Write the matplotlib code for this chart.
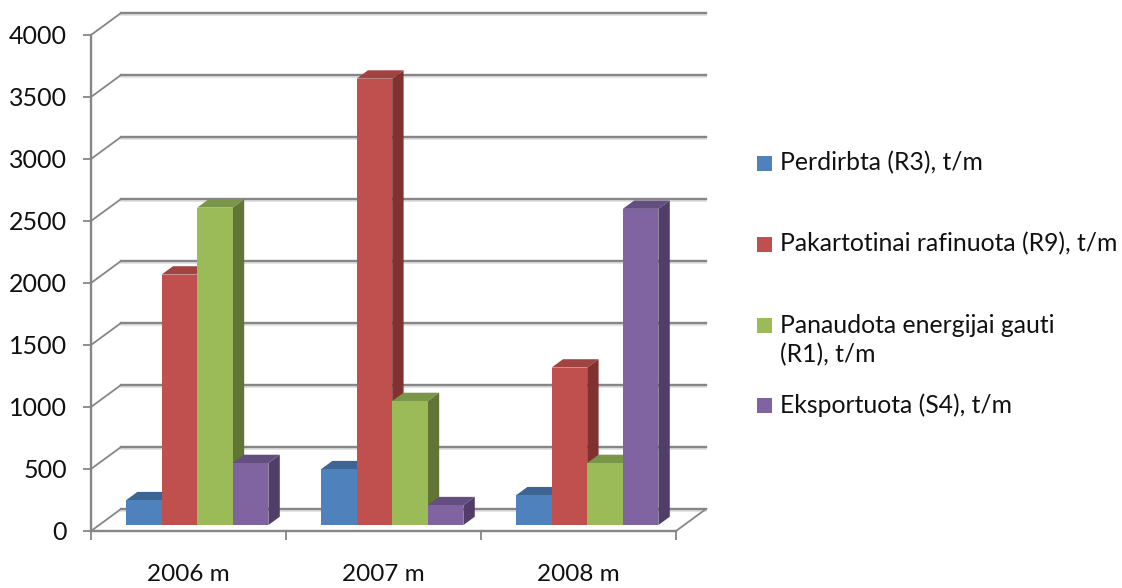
import matplotlib
matplotlib.use('Agg')
import matplotlib.pyplot as plt
from matplotlib.patches import Rectangle

categories = ['2006 m', '2007 m', '2008 m']
series_names = ['Perdirbta (R3), t/m', 'Pakartotinai rafinuota (R9), t/m',
                'Panaudota energijai gauti\n(R1), t/m', 'Eksportuota (S4), t/m']
perdirbta = [200, 450, 240]
rafinuota = [2020, 3600, 1270]
energijai = [2560, 1000, 500]
eksportuota = [500, 160, 2550]
y_ticks = [0, 500, 1000, 1500, 2000, 2500, 3000, 3500, 4000]

front_colors = ['#4F81BD', '#C0504D', '#9BBB59', '#8064A2']
top_colors = ['#3D6594', '#A14341', '#7A9648', '#644E80']
side_colors = ['#2F4E73', '#7F3230', '#617537', '#503D68']
GRID = '#868686'
SHADOW = '#DADADA'

W, H = 1122, 588
plt.rcParams['font.family'] = ['Lato', 'DejaVu Sans']

fig = plt.figure(figsize=(W / 100, H / 100), dpi=100, facecolor='white')
ax = fig.add_axes([91 / W, (H - 531) / H, 585 / W, 496 / H])
ax.set_xlim(0, 3)
ax.set_ylim(0, 4000)
ax.patch.set_visible(False)

# depth of the fake 3d box, in data units
depth_x = 30 / 195
depth_y = 22 / 496 * 4000
bar_w = 35.6 / 195
d0, d1 = 0.27, 0.65


def proj(x, y, d):
    return x + d * depth_x, y + d * depth_y


# back wall and floor
for t in y_ticks:
    x0, y0 = proj(0, t, 1)
    x1, y1 = proj(3, t, 1)
    ax.plot([x0, x1], [y0 - 16, y1 - 16], color=SHADOW, lw=1.1, clip_on=False, zorder=0.5)
    ax.plot([x0, x1], [y0, y1], color=GRID, lw=1.7, clip_on=False, zorder=1)
    ax.plot([0, x0], [t, y0], color=GRID, lw=1.3, clip_on=False, zorder=1)
x0, y0 = proj(3, 0, 1)
ax.plot([3, x0], [0, y0], color=GRID, lw=1.3, clip_on=False, zorder=1)

# bars, left to right so each one covers the side of the previous
values = [perdirbta, rafinuota, energijai, eksportuota]
for i in range(len(categories)):
    for j, vals in enumerate(values):
        left = i + 0.5 + (j - 2) * bar_w + d0 * depth_x + 0.003
        right = left + bar_w
        base = d0 * depth_y
        top = base + vals[i]
        ddx = (d1 - d0) * depth_x
        ddy = (d1 - d0) * depth_y
        z = 3 + i * 10 + j
        ax.fill([left, right, right + ddx, left + ddx], [top, top, top + ddy, top + ddy],
                color=top_colors[j], lw=0, clip_on=False, zorder=z)
        ax.fill([right, right + ddx, right + ddx, right], [base, base + ddy, top + ddy, top],
                color=side_colors[j], lw=0, clip_on=False, zorder=z)
        ax.bar(left, vals[i], bar_w, bottom=base, align='edge', color=front_colors[j],
               lw=0, clip_on=False, zorder=z + 0.5)

# axes
for s in ['top', 'right']:
    ax.spines[s].set_visible(False)
for s in ['left', 'bottom']:
    ax.spines[s].set_color(GRID)
    ax.spines[s].set_linewidth(1.7)
ax.set_yticks(y_ticks)
ax.set_xticks([0, 1, 2, 3])
ax.set_xticklabels([])
ax.set_xticks([0.5, 1.5, 2.5], labels=categories, minor=True)
ax.tick_params(axis='y', length=5.8, width=1.3, color=GRID, pad=11.5, labelsize=18, labelcolor='#111111')
ax.tick_params(axis='x', which='major', length=6.5, width=1.3, color=GRID)
ax.tick_params(axis='x', which='minor', length=0, pad=24, labelsize=17.5, labelcolor='#111111')

# legend
legend_y = [163, 244, 325, 405]
text_y = [163, 244, 340, 405]
for name, c, y, ty in zip(series_names, front_colors, legend_y, text_y):
    fig.add_artist(Rectangle((757 / W, (H - y - 7.5) / H), 15 / W, 15 / H, color=c, lw=0,
                             transform=fig.transFigure))
    fig.text(780 / W, (H - ty) / H, name, fontsize=17.8, va='center', linespacing=1.3, color='#111111')

plt.savefig('out.png', dpi=100)
